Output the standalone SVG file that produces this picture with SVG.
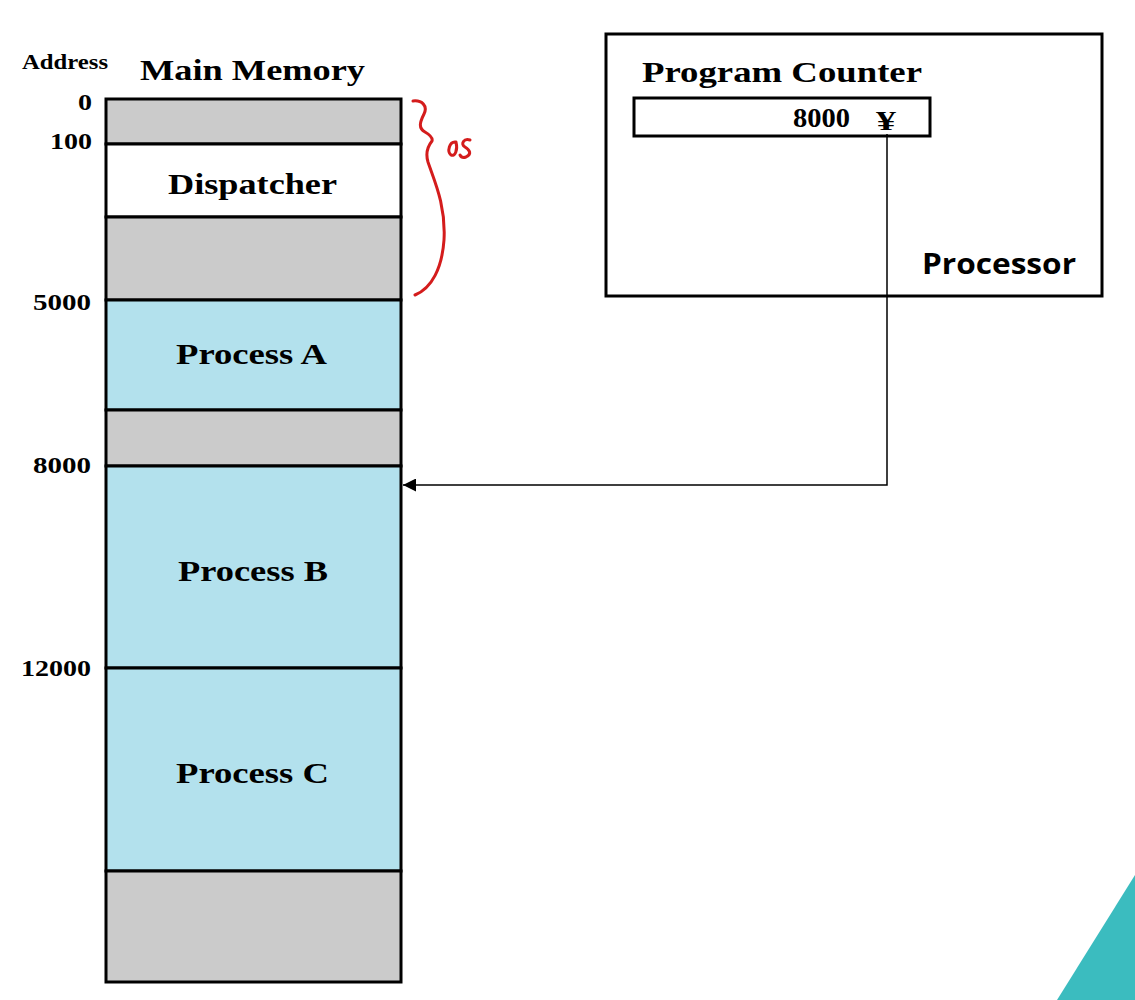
<svg xmlns="http://www.w3.org/2000/svg" width="1135" height="1000" viewBox="0 0 1135 1000">
<style>
.serif{font-family:"Liberation Serif","Times New Roman",serif;font-weight:bold;fill:#000}
.seg{stroke:#000;stroke-width:3}
.gray{fill:#cbcbcb}
.blue{fill:#b3e1ed}
.white{fill:#fff}
.addr{font-size:23px}
</style>
<defs>
<marker id="arr" viewBox="0 0 10 10" refX="10" refY="5" markerWidth="13" markerHeight="13" markerUnits="userSpaceOnUse" orient="auto">
<path d="M0,0 L10,5 L0,10 Z" fill="#000"/>
</marker>
</defs>
<rect width="1135" height="1000" fill="#fff"/>
<polygon points="1057,1000 1135,875 1135,1000" fill="#3bbcbf"/>
<text class="serif" x="22" y="69" font-size="20" textLength="86" lengthAdjust="spacingAndGlyphs">Address</text>
<text class="serif" x="140" y="80" font-size="30" textLength="225" lengthAdjust="spacingAndGlyphs">Main Memory</text>
<g id="memory">
<rect class="seg gray" x="106" y="99" width="295" height="45"/>
<g id="dispatcher"><rect class="seg white" x="106" y="144" width="295" height="73"/>
<text class="serif" x="168" y="194" font-size="30" textLength="169" lengthAdjust="spacingAndGlyphs">Dispatcher</text></g>
<rect class="seg gray" x="106" y="217" width="295" height="83"/>
<g id="processA"><rect class="seg blue" x="106" y="300" width="295" height="110"/>
<text class="serif" x="176" y="364" font-size="30" textLength="151" lengthAdjust="spacingAndGlyphs">Process A</text></g>
<rect class="seg gray" x="106" y="410" width="295" height="56"/>
<g id="processB"><rect class="seg blue" x="106" y="466" width="295" height="202"/>
<text class="serif" x="178" y="581" font-size="30" textLength="150" lengthAdjust="spacingAndGlyphs">Process B</text></g>
<g id="processC"><rect class="seg blue" x="106" y="668" width="295" height="203"/>
<text class="serif" x="176" y="783" font-size="30" textLength="153" lengthAdjust="spacingAndGlyphs">Process C</text></g>
<rect class="seg gray" x="106" y="871" width="295" height="111"/>
</g>
<g id="addresses">
<text class="serif addr" x="78" y="110" textLength="14" lengthAdjust="spacingAndGlyphs">0</text>
<text class="serif addr" x="50" y="149" textLength="42" lengthAdjust="spacingAndGlyphs">100</text>
<text class="serif addr" x="33" y="310" textLength="58" lengthAdjust="spacingAndGlyphs">5000</text>
<text class="serif addr" x="33" y="473" textLength="58" lengthAdjust="spacingAndGlyphs">8000</text>
<text class="serif addr" x="21" y="676" textLength="70" lengthAdjust="spacingAndGlyphs">12000</text>
</g>
<g id="processor">
<rect x="606" y="34" width="496" height="262" fill="none" stroke="#000" stroke-width="3"/>
<text class="serif" x="642" y="82" font-size="30" textLength="280" lengthAdjust="spacingAndGlyphs">Program Counter</text>
<g id="pc"><rect x="634" y="98" width="296" height="38" fill="#fff" stroke="#000" stroke-width="3"/>
<text class="serif" x="793" y="127" font-size="27" font-weight="normal" textLength="57" lengthAdjust="spacingAndGlyphs">8000</text>
<text class="serif" x="876" y="130" font-size="27" textLength="20" lengthAdjust="spacingAndGlyphs">¥</text></g>
<text x="922" y="274" font-family="'Open Sans','Noto Sans',sans-serif" font-weight="bold" font-size="28" textLength="154" lengthAdjust="spacingAndGlyphs">Processor</text>
</g>
<g id="connectors">
<polyline points="887,134 887,485 403,485" fill="none" stroke="#000" stroke-width="1.5" marker-end="url(#arr)"/>
</g>
<g id="annotation" fill="none" stroke="#d41c1c" stroke-width="3" stroke-linecap="round" stroke-linejoin="round">
<path d="M413,101 C422,100 428,106 424,114 C420,122 418,128 425,132 C430,135 433,138 432,141 C428,146 425,152 428,162 C434,180 446,205 444,240 C442,268 432,288 415,295"/>
<path d="M456,142 C449,141 447,152 451,155 C455,157 458,150 456,142 M470,140 C464,138 460,144 465,147 C470,150 472,154 466,157 C463,158 461,157 460,155"/>
</g>
</svg>
